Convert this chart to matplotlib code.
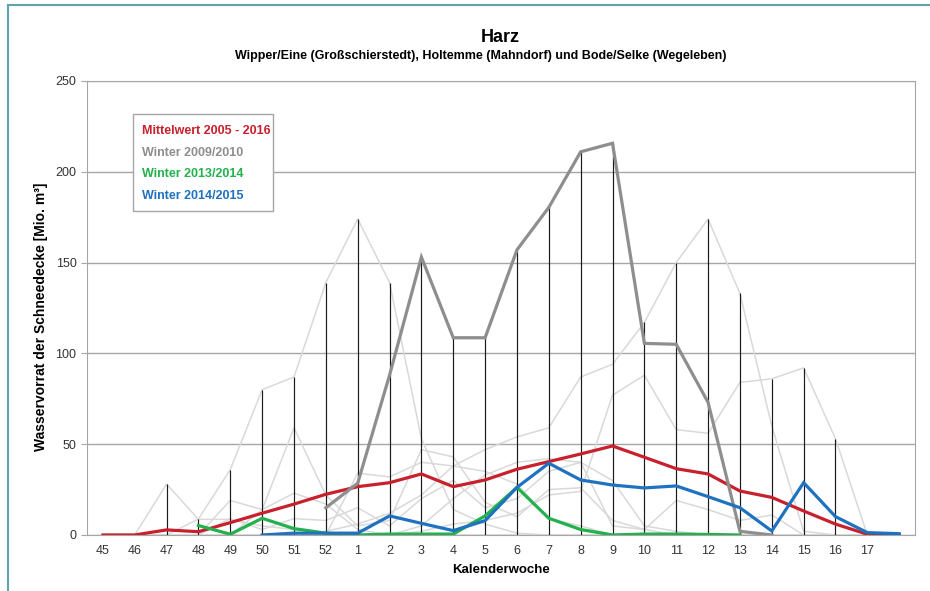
import numpy as np
import matplotlib.pyplot as plt
from matplotlib.patches import Rectangle
from matplotlib.lines import Line2D

plt.rcParams['font.family'] = ['Liberation Sans', 'DejaVu Sans']

weeks = ['45', '46', '47', '48', '49', '50', '51', '52', '1', '2', '3', '4', '5',
         '6', '7', '8', '9', '10', '11', '12', '13', '14', '15', '16', '17', '']
nan = np.nan

# individual winters (light grey background lines)
w_a = [0, 0, 0, 8.8, 36, 80, 87, 139, 174, 139, 53, 14, 6, 1, 0, 0, 0, 0, 0, 0, 0, 0, 0, 0, 0, 0]
w_b = [0, 0, 0, 0, 0, 0, 0, 2, 6, 12, 22, 38, 47, 54, 59, 87, 94, 117, 150, 174, 133, 60, 2, 0, 0, 0]
w_c = [0, 0, 0, 0, 0, 0, 0, 0, 0, 0, 2, 6, 8, 12, 22, 24, 77, 88, 58, 56, 84, 86, 92, 53, 0, 0]
w_d = [0, 0, 28, 8.6, 8.6, 5, 3, 1, 0, 0, 0, 0, 0, 0, 0, 0, 0, 0, 0, 0, 0, 0, 0, 0, 0, 0]
w_e = [0, 0, 0, 0, 19, 14, 23, 17, 3, 0, 5, 20, 33, 40, 42, 40, 30, 5, 2, 0, 0, 0, 0, 0, 0, 0]
w_f = [0, 0, 0, 0, 0, 14, 59, 22, 5, 8, 47, 43, 18, 10, 25, 26, 8, 3, 0, 0, 0, 0, 0, 0, 0, 0]
w_g = [0, 0, 0, 0, 0, 0, 0, 0, 34, 32, 40, 38, 35, 28, 9, 5, 0, 0, 0, 0, 0, 0, 0, 0, 0, 0]
w_h = [0, 0, 0, 0, 9, 3, 9, 8, 15, 5, 20, 30, 15, 20, 35, 40, 5, 3, 19, 14, 8, 11, 0, 0, 0, 0]
others = [w_a, w_b, w_c, w_d, w_e, w_f, w_g, w_h]

mittel = [0, 0, 2.8, 1.8, 6.8, 12, 17, 22.4, 26.6, 28.8, 33.6, 26.6, 30.3, 36.2, 40.4,
          44.6, 49, 42.8, 36.5, 33.6, 24.2, 20.7, 13.2, 6, 0.4, 0]
w0910 = [nan] * 7 + [15, 28.5, 88, 153, 108.6, 108.6, 157, 180.4, 211, 215.7, 105.5,
                     105, 73, 2, 0] + [nan] * 4
w1314 = [nan] * 3 + [5.2, 0.4, 9.2, 3.5, 1, 0, 0.5, 0.5, 0.5, 10.5, 26.2, 9.2, 3, 0,
                     0.5, 0.5, 0.3, 0] + [nan] * 5
w1415 = [nan] * 5 + [0, 1, 1, 1, 10.5, 6.4, 2.4, 7.9, 26.2, 39.5, 30.3, 27.5, 25.9,
                     27, 21.1, 15, 2.2, 28.8, 10.1, 1.3, 0.7]

labels = ['Mittelwert 2005 - 2016', 'Winter 2009/2010', 'Winter 2013/2014', 'Winter 2014/2015']
colors = ['#c8202c', '#8e8e8e', '#22b14c', '#1f72c0']

x = np.arange(len(weeks))

fig = plt.figure(figsize=(9.3, 5.91), dpi=100)
ax = fig.add_axes([0.0935, 0.0948, 0.8905, 0.7682])

for s in others:
    ax.plot(x, s, color='#d9d9d9', lw=1.1, zorder=2)

# high-low lines from max to min of all series
allv = np.array(others + [mittel, w0910, w1314, w1415], dtype=float)
hi = np.nanmax(allv, axis=0)
lo = np.nanmin(allv, axis=0)
ax.vlines(x, lo, hi, color='#1a1a1a', lw=0.85, zorder=3)

for s, c in zip([mittel, w0910, w1314, w1415], colors):
    ax.plot(x, s, color=c, lw=2.3, zorder=4, solid_joinstyle='miter')

ax.set_xlim(-0.5, len(weeks) - 0.5)
ax.set_ylim(0, 250)
ax.set_yticks(np.arange(0, 251, 50))
ax.set_xticks(x)
ax.set_xticklabels(weeks)
ax.grid(axis='y', color='#a6a6a6', lw=1)
ax.set_axisbelow(True)
for sp in ax.spines.values():
    sp.set_color('#a6a6a6')
ax.tick_params(axis='x', length=0, labelsize=9, colors='#333333', pad=7)
ax.tick_params(axis='y', length=4, labelsize=9, colors='#333333', direction='out')
ax.tick_params(axis='y', color='#a6a6a6')

ax.set_xlabel('Kalenderwoche', fontsize=9.5, fontweight='bold', labelpad=5)
ax.set_ylabel('Wasservorrat der Schneedecke [Mio. m³]', fontsize=10, fontweight='bold')
ax.yaxis.set_label_coords(-0.047, 0.48)

fig.text(500 / 930, 0.936, 'Harz', ha='center', va='center',
         fontsize=13, fontweight='bold')
fig.text(481 / 930, 0.906,
         'Wipper/Eine (Großschierstedt), Holtemme (Mahndorf) und Bode/Selke (Wegeleben)',
         ha='center', va='center', fontsize=9, fontweight='bold')

# legend box
ax.add_patch(Rectangle((0.0556, 0.714), 0.169, 0.213, transform=ax.transAxes,
                       facecolor='white', edgecolor='#a6a6a6', lw=1, zorder=6))
for i, (lab, c) in enumerate(zip(labels, colors)):
    ax.text(0.066, 0.889 - i * 0.0475, lab, transform=ax.transAxes, color=c,
            fontsize=9, fontweight='bold', va='center', zorder=7)

# outer frame
fig.add_artist(Line2D([0.009, 0.009], [0, 0.992], color='#5fa3ab', lw=1.5))
fig.add_artist(Line2D([0.009, 1.0], [0.992, 0.992], color='#5fa3ab', lw=1.5))

fig.savefig('out.png', dpi=100)
